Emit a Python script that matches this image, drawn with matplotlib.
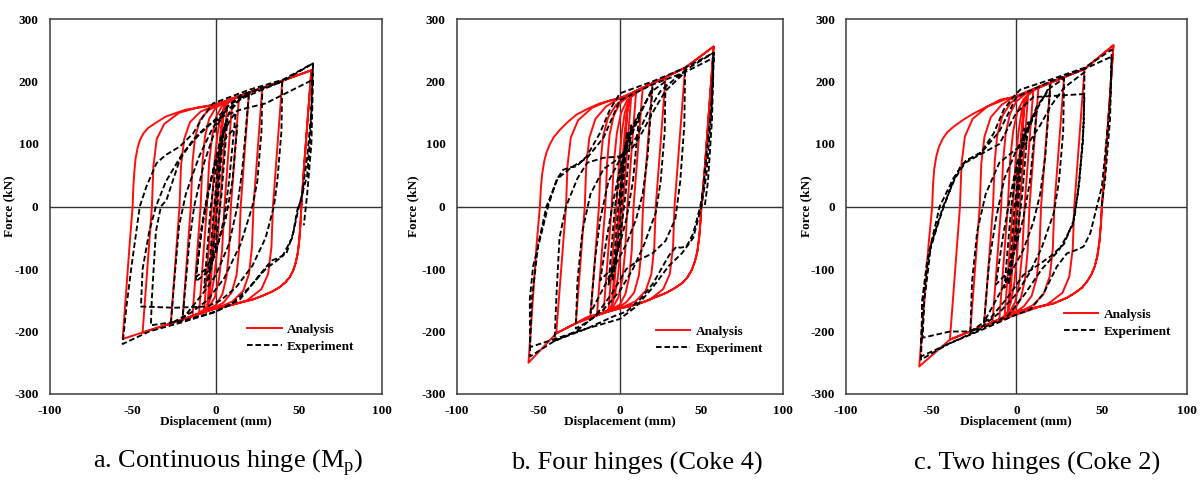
import matplotlib
matplotlib.use('Agg')
import matplotlib.pyplot as plt
from matplotlib.lines import Line2D

plt.rcParams['font.family'] = ['Liberation Serif', 'DejaVu Serif']
plt.rcParams['mathtext.fontset'] = 'custom'
plt.rcParams['mathtext.rm'] = 'Liberation Serif'
plt.rcParams['axes.unicode_minus'] = False

# ── Data: hysteresis branches (x: mm, y: kN) ──────────────────────────────────
a_ana = [
    [(0, 0), (3.5, 126), (4.3, 150), (5, 160)],
    [(5, 160), (0.6, 0), (-1.5, -70), (-3, -120), (-4, -145), (-5, -158)],
    [(-5, -158), (-0.6, 0), (1.5, 75), (3, 120), (4.5, 148), (7, 166)],
    [(7, 166), (2.4, 0), (0.8, -70), (-1, -115), (-3, -145), (-5, -160), (-7, -167)],
    [(-7, -167), (-2.4, 0), (-0.8, 70), (1, 115), (3, 145), (6, 163), (10, 172)],
    [(10, 172), (5.2, 0), (3.8, -70), (2, -115), (-0.5, -145), (-4, -160), (-10, -170)],
    [(-10, -170), (-5.3, 0), (-4, 70), (-2, 115), (0.5, 145), (4, 162), (14, 176)],
    [(14, 176), (9.1, 0), (8, -70), (6.5, -112), (4, -140), (0, -158), (-6, -166), (-14, -175)],
    [(-14, -175), (-9.1, 0), (-8, 70), (-6.5, 112), (-4, 140), (0, 158), (6, 168), (20, 182)],
    [(20, 182), (15, 0), (14, -70), (12.5, -110), (9.5, -138), (4.5, -154), (0, -161), (-8, -169), (-20, -181)],
    [(-20, -181), (-15, 0), (-14, 70), (-12.5, 110), (-9.5, 138), (-4.5, 154), (0, 160), (8, 171), (28, 190)],
    [(28, 190), (22.7, 0), (21.8, -65), (20, -108), (16.5, -135), (10, -152), (3, -160), (-5, -167), (-27, -187)],
    [(-27, -187), (-21.8, 0), (-20.9, 65), (-19, 108), (-15.5, 135), (-9, 152), (-2, 160), (10, 173), (40, 201)],
    [(40, 201), (34.4, 0), (33.5, -65), (31.5, -108), (27.5, -132), (19, -150), (8, -159), (0, -163), (-20, -181), (-44, -202)],
    [(-44, -202), (-38.4, 0), (-37.5, 65), (-35.5, 108), (-31, 132), (-22, 150), (-10, 159), (0, 163), (20, 182), (40, 201), (57.5, 218)],
    [(57.5, 218), (53, 60), (51.5, 0), (50.9, -30), (50.2, -55), (49.3, -75), (48, -91), (46.5, -103), (44.5, -113), (42, -121),
     (38.5, -129), (34, -136), (28, -143), (22, -149), (10, -157), (0, -163), (-20, -181), (-40, -198), (-56, -212)],
    [(-56, -212), (-51.5, -50), (-50, 0), (-49.6, 30), (-49, 55), (-48.2, 77), (-47, 94), (-45.5, 107), (-43.5, 117),
     (-40.5, 126), (-36, 134), (-30, 144), (-18, 155), (-6, 160), (5, 167), (20, 182), (40, 201), (57.5, 218)],
    [(57.5, 218), (53, 60), (51.5, 0), (50.9, -30), (50.2, -55), (49.3, -75), (48, -91), (46.5, -103), (44.5, -113),
     (42, -121), (38.5, -129), (34, -136), (28, -143), (22, -149), (10, -157), (0, -163)],
]

a_exp = [
    [(0, 0), (3, 90), (4.5, 120)],
    [(4.5, 120), (1, 0), (-2.5, -90), (-4.5, -120)],
    [(-4.5, -120), (-1, 0), (2, 80), (5, 125), (7, 140)],
    [(7, 140), (3.5, 20), (0, -60), (-4, -110), (-7, -130)],
    [(-7, -130), (-3, 0), (1, 80), (5, 120), (9, 140), (12, 150)],
    [(12, 150), (8, 40), (5, -20), (0, -75), (-5, -105), (-12, -120)],
    [(-12, -120), (-9, -40), (-5, 20), (0, 75), (6, 110), (13, 130)],
    [(13, 130), (10, 40), (6, -20), (0, -70), (-6, -100), (-12, -113)],
    [(-12, -113), (-8, -30), (-3, 40), (3, 110), (8, 150), (14, 170), (20, 182)],
    [(20, 182), (16, 60), (13, 0), (8, -60), (0, -110), (-8, -140), (-14, -160), (-20, -180)],
    [(-20, -180), (-16, -60), (-13, 0), (-7, 70), (0, 125), (7, 160), (15, 178), (28, 190)],
    [(28, 190), (27.5, 120), (25, 40), (22, 0), (15, -60), (5, -115), (-5, -150), (-15, -170), (-27, -187)],
    [(-27, -187), (-25, -120), (-22, -30), (-18, 20), (-10, 80), (-2, 125), (5, 150), (15, 172), (28, 187), (40, 200)],
    [(40, 200), (39.5, 120), (37, 40), (35, 0), (30, -50), (22, -95), (12, -130), (3, -150), (-5, -160), (-25, -162), (-45, -160)],
    [(-45, -160), (-44, -100), (-40, -40), (-36, 0), (-30, 40), (-20, 85), (-10, 115), (0, 140), (8, 162), (20, 182), (40, 200), (58.5, 229)],
    [(58.5, 229), (57.5, 150), (55, 80), (51.5, 10), (49.5, 0), (46.5, -43), (42.5, -75), (38, -82), (34, -86), (30.5, -96),
     (22.4, -123), (14.4, -149), (6.4, -160), (-1.6, -170), (-20, -185), (-40, -200), (-56, -220)],
    [(-56, -220), (-53.7, -160), (-50.7, -96), (-45.7, 0), (-41.7, 32), (-35.7, 69), (-32, 78), (-29.7, 83), (-21.6, 96),
     (-13.6, 117), (-7.6, 144), (-1.6, 165), (6.4, 173), (20.4, 187), (40.5, 203), (58.5, 229)],
    [(58.5, 229), (57, 120), (55, 50), (50, 0), (46, -50), (40, -80), (30, -100), (20, -130), (10, -155), (0, -168), (-20, -183), (-39, -190)],
    [(-39, -190), (-38.5, -150), (-36, -40), (-33, 0), (-29.7, 10), (-21.6, 75), (-13.6, 107), (-5.6, 128), (5, 145), (15, 155),
     (30, 165), (45, 185), (58.5, 203)],
    [(58.5, 203), (57.5, 100), (55, 20), (53, -30)],
]

b_ana = [
    [(0, 0), (3.5, 119), (4.4, 150), (5, 165)],
    [(5, 165), (0.2, 0), (-1.8, -70), (-3.2, -120), (-4.2, -148), (-5, -160)],
    [(-5, -160), (-0.3, 0), (1.6, 75), (3, 120), (4.5, 152), (7, 178)],
    [(7, 178), (1.8, 0), (0.4, -70), (-1.3, -115), (-3.3, -145), (-5.2, -160), (-7, -168)],
    [(-7, -168), (-2.1, 0), (-0.5, 70), (1.2, 118), (3, 150), (6, 172), (10, 185)],
    [(10, 185), (4.6, 0), (3.3, -70), (1.6, -115), (-0.8, -145), (-4, -160), (-10, -170)],
    [(-10, -170), (-5, 0), (-3.7, 70), (-1.8, 118), (0.8, 150), (4.5, 170), (14, 190)],
    [(14, 190), (8.4, 0), (7.3, -70), (5.8, -112), (3.4, -140), (0, -157), (-6, -166), (-14, -173)],
    [(-14, -173), (-8.9, 0), (-7.8, 70), (-6.3, 115), (-3.8, 145), (0, 165), (6, 178), (20, 197)],
    [(20, 197), (14.2, 0), (13.2, -70), (11.7, -110), (8.7, -138), (4, -153), (0, -160), (-8, -168), (-18, -176)],
    [(-18, -176), (-12.8, 0), (-11.8, 70), (-10.3, 112), (-7.3, 142), (-2.5, 162), (2, 172), (10, 185), (28, 206)],
    [(28, 206), (22, 0), (21.1, -65), (19.3, -108), (15.8, -135), (9.5, -152), (2.5, -160), (-5, -166), (-27, -187)],
    [(-27, -187), (-21.5, 0), (-20.6, 65), (-18.7, 110), (-15, 140), (-8.5, 160), (-1, 172), (10, 185), (40, 222)],
    [(40, 222), (33.5, 0), (32.6, -65), (30.6, -108), (26.6, -132), (18, -150), (7, -159), (0, -163), (-20, -178), (-39, -203)],
    [(-39, -203), (-33, 0), (-32.1, 65), (-30.1, 110), (-25.6, 138), (-17, 158), (-6, 170), (3, 175), (20, 197), (40, 222), (57.5, 256)],
    [(57.5, 256), (52, 60), (50, 0), (49.4, -25), (48.6, -50), (47.5, -72), (46, -88), (44, -102), (41.5, -113), (38.5, -122),
     (34, -130), (28.6, -138), (20, -147), (12.3, -155), (5, -160), (0, -163), (-20, -177), (-39, -203), (-56, -250)],
    [(-56, -250), (-51, -60), (-49, 0), (-48.4, 30), (-47.6, 52), (-46.4, 72), (-45, 86), (-43, 99), (-40.5, 111), (-37, 122),
     (-32, 135), (-26.6, 147), (-20, 156), (-12.3, 165), (0, 173), (20, 197), (40, 222), (57.5, 256)],
    [(57.5, 256), (52, 60), (50, 0), (49.4, -25), (48.6, -50), (47.5, -72), (46, -88), (44, -102), (41.5, -113), (38.5, -122),
     (34, -130), (28.6, -138), (20, -147), (12.3, -155), (0, -163)],
]

b_exp = [
    [(0, 0), (3, 90), (4.5, 120)],
    [(4.5, 120), (1, 0), (-2.5, -90), (-4.5, -120)],
    [(-4.5, -120), (-1, 0), (2, 70), (5, 110), (7, 130)],
    [(7, 130), (3.5, 20), (0, -55), (-4, -100), (-7, -125)],
    [(-7, -125), (-3, 0), (0, 50), (4, 100), (9, 135), (12, 150)],
    [(12, 150), (8, 40), (4, -20), (0, -60), (-5, -100), (-12, -118)],
    [(-12, -118), (-8, -50), (-4, 10), (0, 60), (5, 100), (12, 145), (20, 190)],
    [(20, 190), (17, 80), (14, 20), (10, -20), (4, -60), (-4, -100), (-12, -140), (-18, -170)],
    [(-18, -170), (-15, -80), (-12, -20), (-7, 40), (0, 75), (6, 110), (12, 150), (20, 185), (28, 200)],
    [(28, 200), (27.5, 120), (25, 40), (22, -10), (15, -60), (8, -100), (0, -135), (-10, -165), (-20, -185), (-27, -195)],
    [(-27, -195), (-26, -120), (-23, -40), (-18, 20), (-10, 60), (0, 78), (8, 95), (14, 120), (20, 150), (28, 185), (40, 215)],
    [(40, 215), (39.5, 130), (37, 40), (34, -20), (28, -55), (20, -75), (12, -85), (4, -100), (-5, -140), (-15, -175),
     (-27, -200), (-40, -215)],
    [(-40, -215), (-39, -150), (-37, -50), (-33, 0), (-26, 45), (-20, 70), (-10, 78), (0, 80), (10, 110), (17, 150),
     (25, 185), (40, 218), (57.5, 246)],
    [(57.5, 246), (56.4, 171), (53, 80), (51.3, 32), (49.3, 0), (45, -42.7), (40.9, -64), (37, -66), (34.8, -64), (31, -75),
     (28.6, -85), (20.4, -123), (12.3, -149), (4.1, -168), (-4.1, -176), (-20, -195), (-40, -215), (-55, -240)],
    [(-55, -240), (-55.2, -149), (-53.2, -96), (-47, -32), (-44, 0), (-38.8, 42.7), (-34.8, 58.7), (-30, 63), (-26.6, 64),
     (-20.4, 80), (-12.3, 117), (-6.1, 155), (0, 181), (20, 200), (40, 222), (57.5, 246)],
    [(57.5, 246), (56, 150), (53, 50), (50, 0), (45, -50), (38, -75), (30, -95), (20, -130), (10, -160), (0, -180),
     (-20, -195), (-40, -212), (-55, -225)],
    [(-55, -225), (-54, -150), (-50, -60), (-45, 0), (-38, 45), (-30, 62), (-20, 78), (-10, 110), (0, 170), (20, 195),
     (40, 215), (57.5, 238)],
    [(57.5, 238), (56.5, 140), (54, 40), (52, 0)],
]

c_ana = [
    [(0, 0), (3.5, 126), (4.4, 155), (5, 170)],
    [(5, 170), (0.3, 0), (-1.7, -75), (-3.1, -125), (-4.1, -155), (-5, -170)],
    [(-5, -170), (-0.3, 0), (1.7, 75), (3.1, 125), (4.6, 158), (7, 182)],
    [(7, 182), (2, 0), (0.6, -72), (-1.1, -120), (-3.1, -152), (-5, -168), (-7, -179)],
    [(-7, -179), (-2, 0), (-0.5, 72), (1.3, 120), (3.2, 155), (6, 176), (10, 188)],
    [(10, 188), (4.8, 0), (3.5, -72), (1.8, -120), (-0.6, -152), (-4, -170), (-10, -181)],
    [(-10, -181), (-5, 0), (-3.7, 72), (-1.9, 120), (0.6, 152), (4.3, 172), (13, 192)],
    [(13, 192), (7.7, 0), (6.6, -72), (5.1, -116), (2.7, -146), (-1, -165), (-6, -176), (-14, -185)],
    [(-14, -185), (-8.9, 0), (-7.8, 72), (-6.3, 116), (-3.8, 148), (0, 168), (6, 182), (20, 198)],
    [(20, 198), (14.5, 0), (13.5, -72), (12, -114), (9, -143), (4.3, -160), (0, -168), (-8, -180), (-19, -191)],
    [(-19, -191), (-13.7, 0), (-12.7, 72), (-11.2, 114), (-8.2, 145), (-3.5, 165), (1, 176), (10, 188), (28, 206)],
    [(28, 206), (22.3, 0), (21.4, -68), (19.6, -112), (16, -140), (9.7, -158), (2.5, -168), (-5, -177), (-27, -199)],
    [(-27, -199), (-21.5, 0), (-20.6, 68), (-18.7, 112), (-15, 143), (-8.5, 163), (-1, 176), (10, 188), (40, 220)],
    [(40, 220), (34, 0), (33.1, -68), (31.1, -112), (27.1, -138), (18.5, -156), (7.5, -166), (0, -173), (-20, -192), (-39, -213)],
    [(-39, -213), (-33.1, 0), (-32.2, 68), (-30.2, 112), (-25.7, 140), (-17, 160), (-6, 172), (3, 178), (20, 198), (40, 220), (57, 258)],
    [(57, 258), (52, 60), (50.2, 0), (49.6, -30), (48.7, -58), (47.5, -80), (46, -96), (44, -109), (41.5, -120), (38.5, -130),
     (34.5, -138), (29.7, -146), (22, -155), (14, -160), (7, -164), (0.4, -168), (-20, -192), (-39, -213), (-57, -256)],
    [(-57, -256), (-51.5, -60), (-49.4, 0), (-48.9, 35), (-48.2, 60), (-47, 80), (-45.5, 95), (-43.3, 108), (-40.5, 119),
     (-36.7, 128), (-31, 139), (-25, 149), (-17, 160), (-9.4, 171), (0, 176), (20, 198), (40, 220), (57, 258)],
    [(57, 258), (52, 60), (50.2, 0), (49.6, -30), (48.7, -58), (47.5, -80), (46, -96), (44, -109), (41.5, -120),
     (38.5, -130), (34.5, -138), (29.7, -146), (22, -155), (14, -160), (0.4, -168)],
]

c_exp = [
    [(0, 0), (3, 95), (4.5, 125)],
    [(4.5, 125), (1, 0), (-2.5, -95), (-4.5, -125)],
    [(-4.5, -125), (-1, 0), (2, 75), (5, 115), (7, 135)],
    [(7, 135), (3.5, 20), (0, -55), (-4, -105), (-7, -130)],
    [(-7, -130), (-3, 0), (0, 55), (4, 105), (9, 140), (12, 155)],
    [(12, 155), (8, 40), (4, -20), (0, -60), (-5, -105), (-12, -125)],
    [(-12, -125), (-8, -50), (-4, 10), (0, 65), (5, 110), (12, 155), (20, 195)],
    [(20, 195), (17, 80), (14, 20), (10, -25), (4, -70), (-4, -110), (-12, -150), (-19, -185)],
    [(-19, -185), (-16, -90), (-12, -20), (-7, 45), (0, 90), (6, 120), (12, 160), (20, 190), (28, 205)],
    [(28, 205), (27.5, 120), (25, 40), (22, -10), (15, -65), (8, -105), (0, -140), (-10, -170), (-20, -192), (-27, -200)],
    [(-27, -200), (-26, -120), (-23, -40), (-18, 20), (-10, 70), (0, 92), (8, 105), (14, 130), (20, 160), (28, 190), (40, 215)],
    [(40, 215), (39.5, 130), (37, 40), (34, -20), (28, -60), (20, -80), (12, -95), (4, -110), (-5, -145), (-15, -178),
     (-27, -200), (-39, -200), (-55, -210)],
    [(-55, -210), (-54, -150), (-50, -60), (-43, 0), (-36, 45), (-30, 70), (-20, 85), (-10, 100), (0, 150), (10, 175), (40, 180)],
    [(40, 180), (39, 100), (36, 20), (33, -30), (25, -70), (15, -100), (5, -140), (-5, -175), (-20, -195), (-40, -220), (-56, -245)],
    [(-56, -245), (-55.2, -149), (-52.3, -85), (-46.5, -32), (-42.6, 0), (-36.7, 42.7), (-32.8, 64), (-28.9, 74.7), (-21.1, 85),
     (-13.3, 117), (-7.4, 155), (-1.6, 176), (2.3, 187), (20, 203), (40, 222), (56, 251)],
    [(56, 251), (55.1, 171), (52, 80), (50.2, 32), (47.3, 0), (43.4, -42.7), (39.5, -64), (35.7, -69), (29.7, -75), (23.8, -96),
     (16, -139), (8.2, -165), (0, -173), (-20, -197), (-40, -220), (-56, -240)],
    [(-56, -240), (-55, -150), (-51, -70), (-45, 0), (-37, 45), (-30, 72), (-20, 88), (-10, 120), (0, 175), (20, 200),
     (40, 220), (56, 240)],
    [(56, 240), (55, 140), (52, 40), (50, 0)],
]

captions = ['a. Continuous hinge (M$_{\\rm p}$)', 'b. Four hinges (Coke 4)', 'c. Two hinges (Coke 2)']
x_ticks = [-100, -50, 0, 50, 100]
y_ticks = [-300, -200, -100, 0, 100, 200, 300]

# ── Layout (pixel boxes of the three panels) ──────────────────────────────────
W, H = 1201, 480
boxes = [(49.5, 382), (456.7, 783), (846, 1186.7)]
ylabel_x = [-0.104, -0.115, -0.098]
legend_anchor = [(0.575, 0.205), (0.59, 0.2), (0.62, 0.245)]
caption_x = [228, 637, 1037]


def flat(branches):
    xs, ys = [], []
    for br in branches:
        for x, y in br:
            xs.append(x)
            ys.append(y)
    return xs, ys


fig = plt.figure(figsize=(W / 100, H / 100), dpi=100)
bold = dict(fontweight='bold', fontsize=9.5)
red = '#ff0d0d'
dash = (0, (3, 1.5))

for i, (ana, exp) in enumerate([(a_ana, a_exp), (b_ana, b_exp), (c_ana, c_exp)]):
    l, r = boxes[i]
    ax = fig.add_axes([l / W, (H - 394) / H, (r - l) / W, 375 / H])
    ax.set_xlim(-100, 100)
    ax.set_ylim(-300, 300)
    ax.axhline(0, color='#333333', lw=1.0, zorder=1)
    ax.axvline(0, color='#333333', lw=1.0, zorder=1)

    xa, ya = flat(ana)
    ax.plot(xa, ya, color=red, lw=1.4, zorder=2, solid_joinstyle='round')
    xe, ye = flat(exp)
    ax.plot(xe, ye, color='black', lw=1.35, ls=dash, zorder=3)

    ax.set_xticks(x_ticks)
    ax.set_yticks(y_ticks)
    ax.tick_params(length=0, pad=8)
    for lab in ax.get_xticklabels() + ax.get_yticklabels():
        lab.set_fontweight('bold')
        lab.set_fontsize(9.5)
    ax.set_xlabel('Displacement (mm)', labelpad=-1, **bold)
    ax.set_ylabel('Force (kN)', **bold)
    ax.yaxis.set_label_coords(ylabel_x[i], 0.5)
    for sp in ax.spines.values():
        sp.set_color('#3a3a3a')
        sp.set_linewidth(1.1)

    handles = [Line2D([], [], color=red, lw=1.4),
               Line2D([], [], color='black', lw=1.35, ls=dash)]
    ax.legend(handles, ['Analysis', 'Experiment'], loc='upper left',
              bbox_to_anchor=legend_anchor[i], frameon=False, handlelength=2.6,
              handletextpad=0.4, labelspacing=0.35, borderpad=0,
              prop={'weight': 'bold', 'size': 9.5})

    fig.text(caption_x[i] / W, (H - 463) / H, captions[i], ha='center',
             va='center', fontsize=19)

fig.savefig('out.png', dpi=100)
